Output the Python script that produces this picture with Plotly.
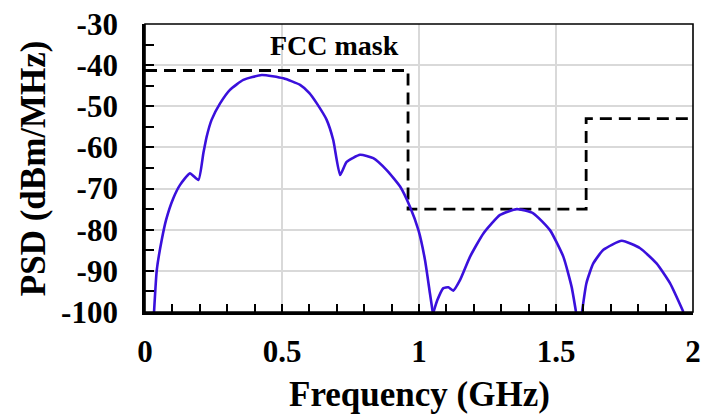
import plotly.graph_objects as go

# PSD curve segments (GHz, dBm/MHz); None separates the lobes cut at the axis floor
freq = [0.033, 0.043, 0.061, 0.077, 0.103, 0.128, 0.164, 0.195, 0.213, 0.225, 0.243, 0.274,
        0.310, 0.359, 0.426, 0.505, 0.566, 0.600, 0.627, 0.663, 0.687, 0.712, 0.736, 0.785,
        0.833, 0.882, 0.931, 0.967, 0.998, 1.022, 1.040, 1.050, None,
        1.053, 1.067, 1.089, 1.107, 1.125, 1.150, 1.186, 1.235, 1.296, 1.357, 1.417, 1.478,
        1.527, 1.557, 1.573, None,
        1.595, 1.611, 1.636, 1.673, 1.740, 1.807, 1.867, 1.916, 1.965]
psd = [-100, -89.8, -82.5, -77.6, -72.4, -69.1, -66.3, -67.9, -61.4, -57.4, -53.3, -49.3,
       -46.0, -43.6, -42.4, -43.2, -44.8, -46.8, -49.3, -53.3, -58.2, -66.7, -63.5, -61.8,
       -62.6, -65.5, -69.5, -74.4, -80.1, -87.4, -95.5, -100, None,
       -100, -97.1, -94.2, -94.0, -94.8, -92.2, -86.6, -80.9, -76.4, -75.0, -76.0, -80.1,
       -86.6, -93.9, -100, None,
       -100, -93.0, -88.2, -84.9, -82.7, -84.5, -88.2, -93.0, -100]

# FCC mask steps
mask_freq = [0.0, 0.96, 0.96, 1.61, 1.61, 2.0]
mask_psd = [-41.3, -41.3, -75.0, -75.0, -53.0, -53.0]

x_ticks = [0, 0.5, 1, 1.5, 2]
x_tick_text = ["0", "0.5", "1", "1.5", "2"]
y_ticks = [-100, -90, -80, -70, -60, -50, -40, -30]
y_tick_text = ["-100", "-90", "-80", "-70", "-60", "-50", "-40", "-30"]

FONT = "Liberation Serif"

fig = go.Figure()
fig.add_trace(go.Scatter(x=mask_freq, y=mask_psd, mode="lines",
                         line=dict(color="black", width=2.8, dash="12px,7px"),
                         showlegend=False, hoverinfo="skip"))
fig.add_trace(go.Scatter(x=freq, y=psd, mode="lines", connectgaps=False,
                         line=dict(color="#3a10dc", width=2.6, shape="spline", smoothing=0.5),
                         showlegend=False))

fig.add_annotation(x=0.69, y=-35.3, text="<b>FCC mask</b>", showarrow=False,
                   font=dict(family=FONT, size=28, color="black"))
fig.add_annotation(xref="paper", yref="paper", x=0.5, y=-0.285, yanchor="middle",
                   text="<b>Frequency (GHz)</b>", showarrow=False,
                   font=dict(family=FONT, size=35, color="black"))
fig.add_annotation(xref="paper", yref="paper", x=-0.204, y=0.5, xanchor="center",
                   yanchor="middle",
                   text="<b>PSD (dBm/MHz)</b>", showarrow=False, textangle=-90,
                   font=dict(family=FONT, size=35, color="black"))

fig.add_shape(type="rect", xref="paper", yref="paper", x0=0, y0=0, x1=1, y1=1,
              line=dict(color="black", width=1.6), layer="above")

tick_font = dict(family=FONT, size=31, color="black", weight="bold")

fig.update_layout(
    width=701, height=416,
    margin=dict(l=145, r=8, t=24, b=104, autoexpand=False),
    paper_bgcolor="white", plot_bgcolor="white",
    font=dict(family=FONT, color="black"),
    xaxis=dict(range=[0, 2], tickvals=x_ticks, ticktext=x_tick_text,
               ticks="inside", ticklen=8, tickwidth=2, tickcolor="black",
               showline=True, linecolor="black", linewidth=2.8,
               showgrid=True, gridcolor="#d9d9d9", gridwidth=1.5,
               ticklabelstandoff=10, zeroline=False, tickfont=tick_font,
               ticklabeloverflow="allow", automargin=False,
               minor=dict(dtick=0.1, ticks="inside", ticklen=8, tickwidth=2,
                          tickcolor="black", showgrid=False)),
    yaxis=dict(range=[-100, -30], tickvals=y_ticks, ticktext=y_tick_text,
               ticks="inside", ticklen=9, tickwidth=2, tickcolor="black",
               showline=True, linecolor="black", linewidth=2.8,
               showgrid=True, gridcolor="#d9d9d9", gridwidth=1.5,
               ticklabelstandoff=18, zeroline=False, tickfont=tick_font,
               ticklabeloverflow="allow", automargin=False,
               minor=dict(dtick=5, ticks="inside", ticklen=9, tickwidth=2,
                          tickcolor="black", showgrid=False)),
)

# remove the default page margin so the figure sits at the window's top-left corner
fig.write_html("out.html",
               config={"displayModeBar": False},
               post_script="document.body.style.margin='0';"
                           "document.documentElement.style.overflow='hidden';")
